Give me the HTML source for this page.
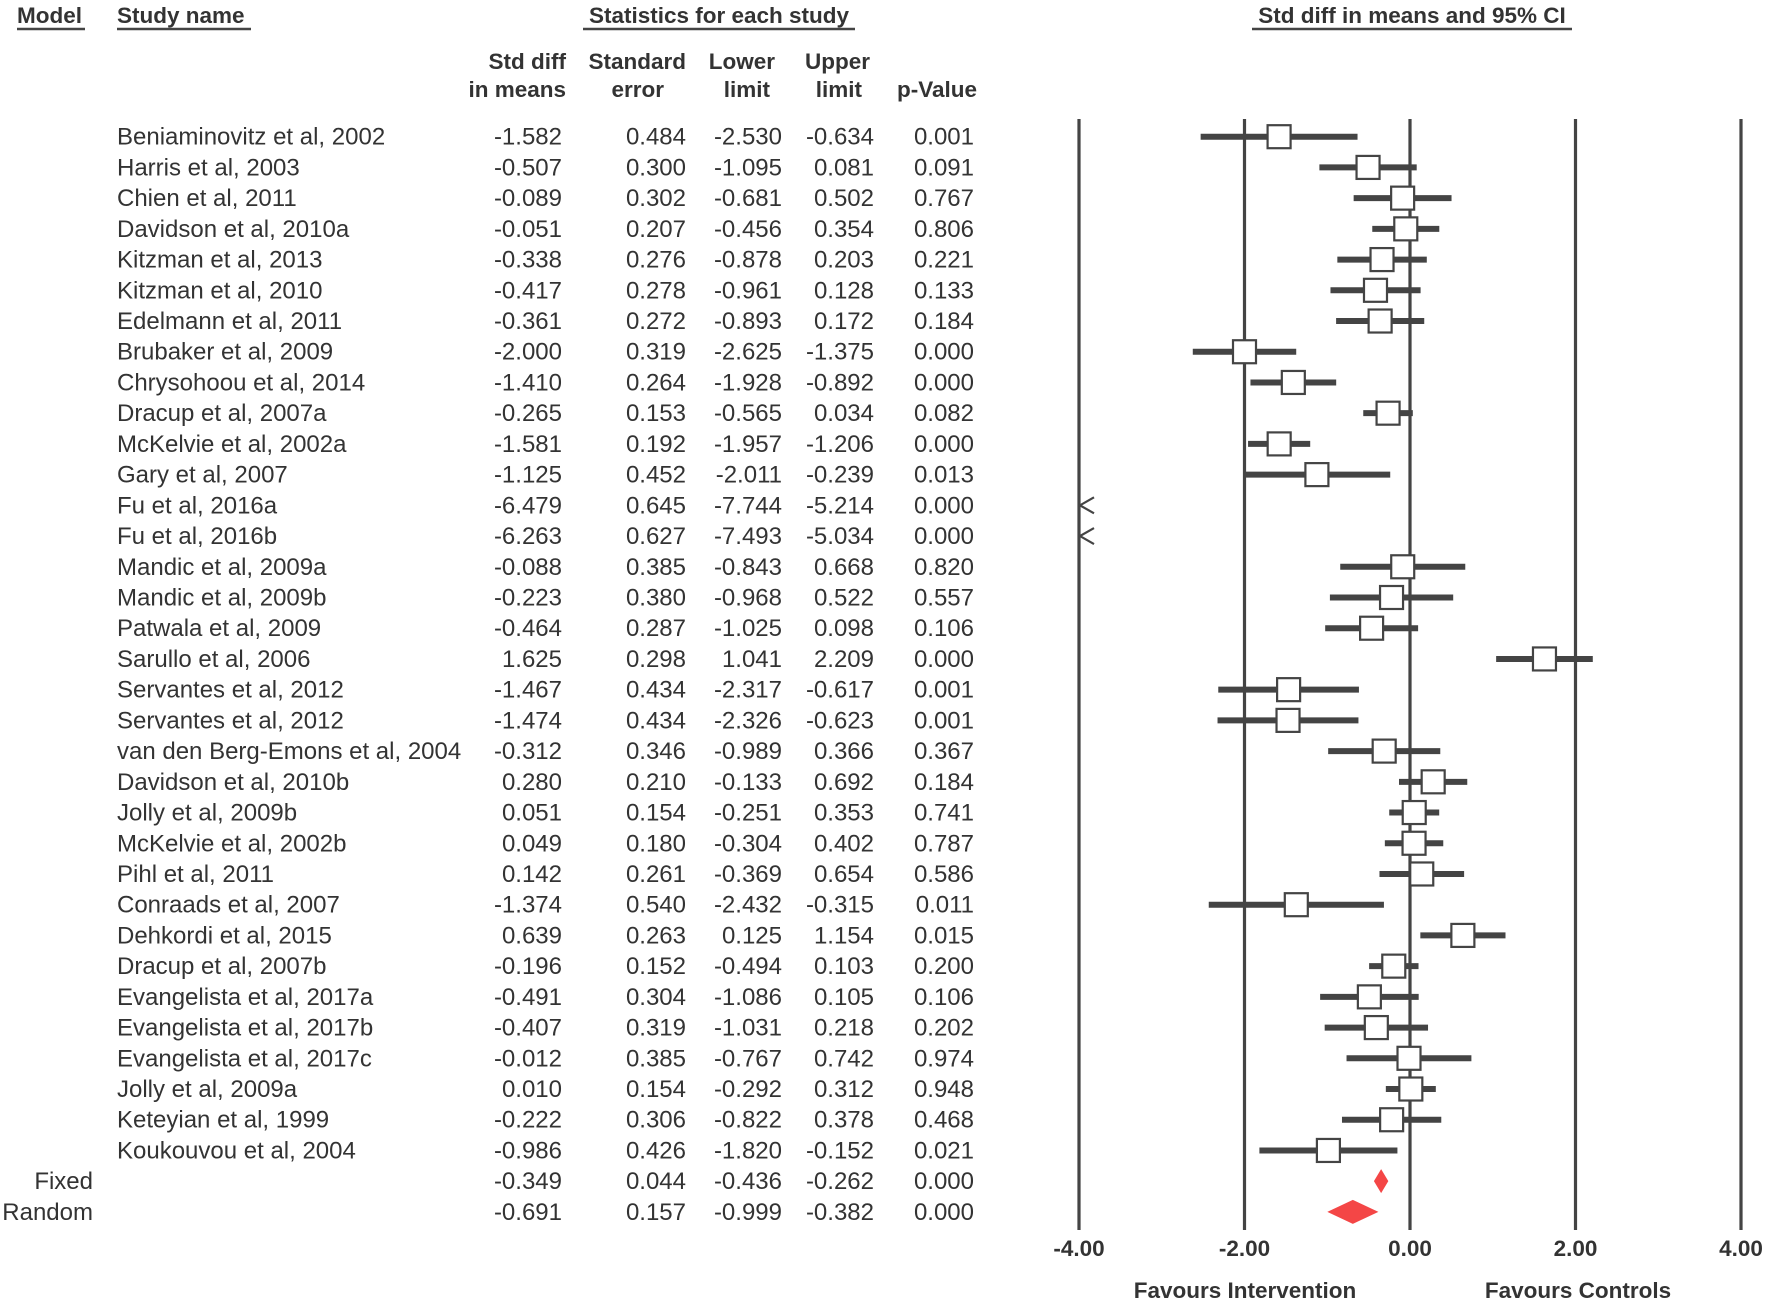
<!DOCTYPE html>
<html><head><meta charset="utf-8"><style>
html,body{margin:0;padding:0;background:#fff;}
svg{display:block;font-family:"Liberation Sans",Arial,sans-serif;}
</style></head><body>
<svg id="chart" width="1772" height="1305" viewBox="0 0 1772 1305" xmlns="http://www.w3.org/2000/svg">
<g id="headers" fill="#333" font-weight="bold" font-size="22.5">
<text x="17" y="23">Model</text>
<line x1="17" y1="29" x2="85" y2="29" stroke="#444" stroke-width="2.5"/>
<text x="117" y="23">Study name</text>
<line x1="117" y1="29" x2="251" y2="29" stroke="#444" stroke-width="2.5"/>
<text x="719" y="23" text-anchor="middle">Statistics for each study</text>
<line x1="583" y1="29" x2="855" y2="29" stroke="#444" stroke-width="2.5"/>
<text x="1412" y="23" text-anchor="middle">Std diff in means and 95% CI</text>
<line x1="1252" y1="29" x2="1572" y2="29" stroke="#444" stroke-width="2.5"/>
<g text-anchor="end">
<text x="566" y="69">Std diff</text>
<text x="566" y="97">in means</text>
<text x="686" y="69">Standard</text>
<text x="664" y="97">error</text>
<text x="775" y="69">Lower</text>
<text x="770" y="97">limit</text>
<text x="870" y="69">Upper</text>
<text x="862" y="97">limit</text>
<text x="977" y="97">p-Value</text>
</g>
</g>
<g id="table"></g>
<g id="plot"></g>
</svg>
<script>
const studies=["Beniaminovitz et al, 2002","Harris et al, 2003","Chien et al, 2011","Davidson et al, 2010a","Kitzman et al, 2013","Kitzman et al, 2010","Edelmann et al, 2011","Brubaker et al, 2009","Chrysohoou et al, 2014","Dracup et al, 2007a","McKelvie et al, 2002a","Gary et al, 2007","Fu et al, 2016a","Fu et al, 2016b","Mandic et al, 2009a","Mandic et al, 2009b","Patwala et al, 2009","Sarullo et al, 2006","Servantes et al, 2012","Servantes et al, 2012","van den Berg-Emons et al, 2004","Davidson et al, 2010b","Jolly et al, 2009b","McKelvie et al, 2002b","Pihl et al, 2011","Conraads et al, 2007","Dehkordi et al, 2015","Dracup et al, 2007b","Evangelista et al, 2017a","Evangelista et al, 2017b","Evangelista et al, 2017c","Jolly et al, 2009a","Keteyian et al, 1999","Koukouvou et al, 2004"];
const effect=[-1.582,-0.507,-0.089,-0.051,-0.338,-0.417,-0.361,-2.000,-1.410,-0.265,-1.581,-1.125,-6.479,-6.263,-0.088,-0.223,-0.464,1.625,-1.467,-1.474,-0.312,0.280,0.051,0.049,0.142,-1.374,0.639,-0.196,-0.491,-0.407,-0.012,0.010,-0.222,-0.986];
const stderr=[0.484,0.300,0.302,0.207,0.276,0.278,0.272,0.319,0.264,0.153,0.192,0.452,0.645,0.627,0.385,0.380,0.287,0.298,0.434,0.434,0.346,0.210,0.154,0.180,0.261,0.540,0.263,0.152,0.304,0.319,0.385,0.154,0.306,0.426];
const lower=[-2.530,-1.095,-0.681,-0.456,-0.878,-0.961,-0.893,-2.625,-1.928,-0.565,-1.957,-2.011,-7.744,-7.493,-0.843,-0.968,-1.025,1.041,-2.317,-2.326,-0.989,-0.133,-0.251,-0.304,-0.369,-2.432,0.125,-0.494,-1.086,-1.031,-0.767,-0.292,-0.822,-1.820];
const upper=[-0.634,0.081,0.502,0.354,0.203,0.128,0.172,-1.375,-0.892,0.034,-1.206,-0.239,-5.214,-5.034,0.668,0.522,0.098,2.209,-0.617,-0.623,0.366,0.692,0.353,0.402,0.654,-0.315,1.154,0.103,0.105,0.218,0.742,0.312,0.378,-0.152];
const pvalue=["0.001","0.091","0.767","0.806","0.221","0.133","0.184","0.000","0.000","0.082","0.000","0.013","0.000","0.000","0.820","0.557","0.106","0.000","0.001","0.001","0.367","0.184","0.741","0.787","0.586","0.011","0.015","0.200","0.106","0.202","0.974","0.948","0.468","0.021"];
const summaryNames=["Fixed","Random"];
const summaryEffect=[-0.349,-0.691];
const summaryStderr=[0.044,0.157];
const summaryLower=[-0.436,-0.999];
const summaryUpper=[-0.262,-0.382];
const summaryP=["0.000","0.000"];
const ticks=[-4,-2,0,2,4];
const tickLabels=["-4.00","-2.00","0.00","2.00","4.00"];

const NS="http://www.w3.org/2000/svg";
const X0=1079, X1=1741, VMIN=-4, VMAX=4;
const xs=v=>X0+(v-VMIN)/(VMAX-VMIN)*(X1-X0);
const ROW0=136.7, DY=30.72;
const ys=i=>ROW0+i*DY;
const table=document.getElementById('table');
const plot=document.getElementById('plot');
function mk(tag,attrs,parent){const e=document.createElementNS(NS,tag);for(const k in attrs)e.setAttribute(k,attrs[k]);parent.appendChild(e);return e;}
function txt(str,x,y,anchor,parent){const t=mk('text',{x:x,y:y,'text-anchor':anchor,fill:'#333','font-size':24},parent);t.textContent=str;return t;}
const fmt=v=>v.toFixed(3);
const colX=[562,686,782,874,974];

ticks.forEach((t,i)=>{
  const l=mk('line',{x1:xs(t),x2:xs(t),y1:119,y2:1230,stroke:'#444','stroke-width':3.2},plot);
  
  
  const tl=mk('text',{x:xs(t),y:1256,'text-anchor':'middle',fill:'#333','font-size':22.5,'font-weight':'bold'},plot);
  tl.textContent=tickLabels[i];
  
  
});
const f1=mk('text',{x:1245,y:1298,'text-anchor':'middle',fill:'#333','font-size':22.5,'font-weight':'bold'},plot);
f1.textContent="Favours Intervention";


const f2=mk('text',{x:1578,y:1298,'text-anchor':'middle',fill:'#333','font-size':22.5,'font-weight':'bold'},plot);
f2.textContent="Favours Controls";



studies.forEach((name,i)=>{
  const y=ys(i), ty=y+8;
  const g=mk('g',{},table);
  
  
  txt(name,117,ty,'start',g);
  [fmt(effect[i]),fmt(stderr[i]),fmt(lower[i]),fmt(upper[i]),pvalue[i]].forEach((s,j)=>txt(s,colX[j],ty,'end',g));
  const pg=mk('g',{},plot);
  
  
  const lo=Math.max(lower[i],VMIN), hi=Math.min(upper[i],VMAX);
  if(hi>lo){
    mk('line',{x1:xs(lo),x2:xs(hi),y1:y,y2:y,stroke:'#444','stroke-width':6},pg);
  }
  if(effect[i]>=VMIN && effect[i]<=VMAX){
    const s=23;
    mk('rect',{x:xs(effect[i])-s/2,y:y-s/2,width:s,height:s,fill:'#fff',stroke:'#444','stroke-width':2.2},pg);
  } else if(effect[i]<VMIN){
    const ax=xs(VMIN);
    mk('polyline',{points:`${ax+15},${y-8} ${ax+1},${y} ${ax+15},${y+8}`,fill:'none',stroke:'#444','stroke-width':2.2},pg);
  }
});

summaryNames.forEach((name,k)=>{
  const i=studies.length+k, y=ys(i), ty=y+8;
  const g=mk('g',{},table);
  
  
  txt(name,93,ty,'end',g);
  [fmt(summaryEffect[k]),fmt(summaryStderr[k]),fmt(summaryLower[k]),fmt(summaryUpper[k]),summaryP[k]].forEach((s,j)=>txt(s,colX[j],ty,'end',g));
  const d=mk('polygon',{points:`${xs(summaryLower[k])},${y} ${xs(summaryEffect[k])},${y-12} ${xs(summaryUpper[k])},${y} ${xs(summaryEffect[k])},${y+12}`,fill:'#f44646'},plot);
  
  
});
</script>
</body></html>
